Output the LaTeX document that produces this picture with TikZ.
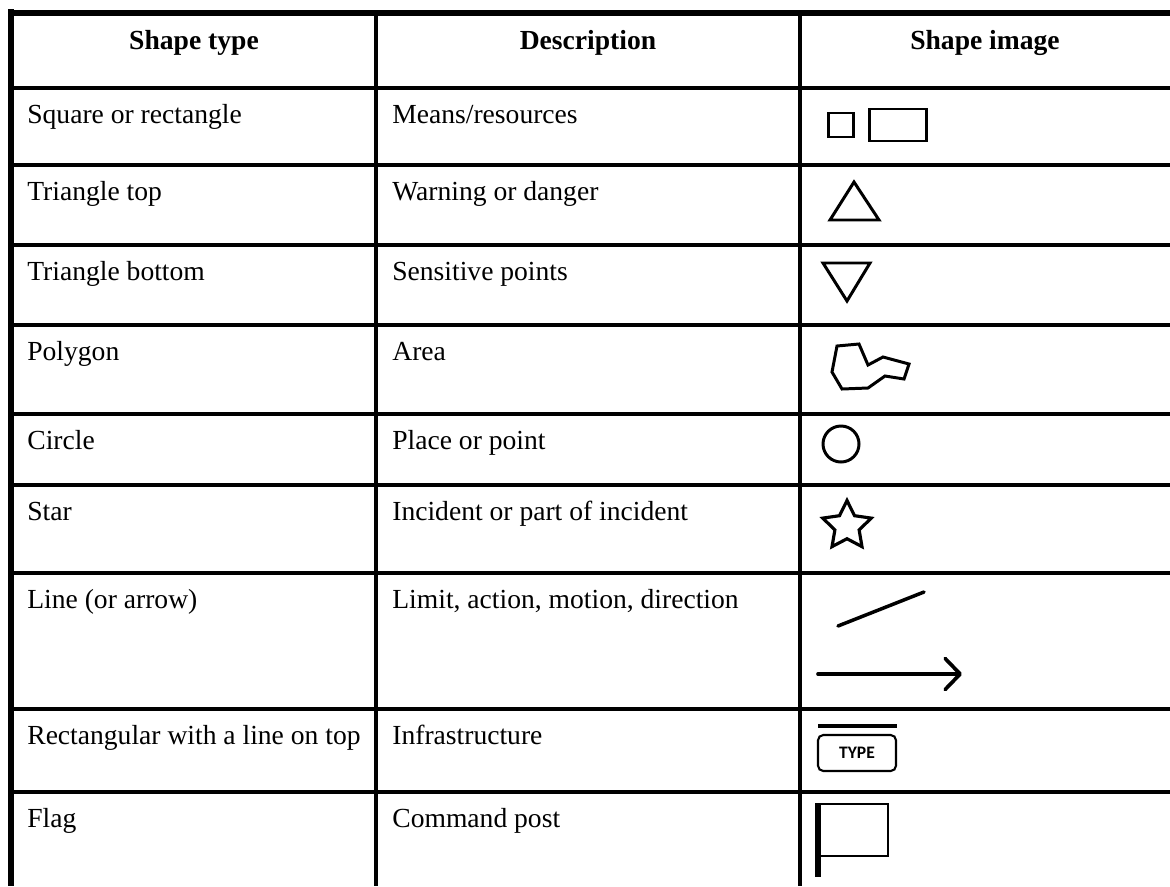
\documentclass[tikz,border=0pt]{standalone}
\usepackage{fontspec}
\setmainfont{Liberation Serif}
\newfontfamily\typefont{Carlito}
\usetikzlibrary{arrows.meta,shapes.geometric}

\begin{document}
\begin{tikzpicture}[x=0.02cm,y=-0.02cm,line join=miter,>={Straight Barb[length=0.3cm,width=0.62cm,round]},
 frame/.style={line width=3.4pt},
 rule/.style={line width=2pt},
 cell/.style={anchor=base west,inner sep=0pt,font=\fontsize{15.7}{19}\selectfont},
 head/.style={anchor=base,inner sep=0pt,font=\fontsize{15.7}{19}\selectfont\bfseries},
 sym/.style={line width=1.7pt}]

\useasboundingbox (0,0) rectangle (1170,886);

% grid
\draw[rule] (14,88)--(1170,88);
\draw[rule] (14,165)--(1170,165);
\draw[rule] (14,245)--(1170,245);
\draw[rule] (14,325)--(1170,325);
\draw[rule] (14,414)--(1170,414);
\draw[rule] (14,485)--(1170,485);
\draw[rule] (14,573)--(1170,573);
\draw[rule] (14,709)--(1170,709);
\draw[rule] (14,792)--(1170,792);
\draw[rule] (376,16)--(376,886);
\draw[rule] (800,16)--(800,886);
\draw[frame] (8,13)--(1170,13);
\draw[frame] (11,9)--(11,886);

% headers
\node[head] (htype) at (194,49) {Shape type};
\node[head] (hdesc) at (588,49) {Description};
\node[head] (himg) at (985,49) {Shape image};

% first column
\node[cell] (square) at (27,123) {Square or rectangle};
\node[cell] (tritop) at (27,200) {Triangle top};
\node[cell] (tribot) at (27,280) {Triangle bottom};
\node[cell] (polygon) at (27,360) {Polygon};
\node[cell] (circle) at (27,449) {Circle};
\node[cell] (star) at (27,520) {Star};
\node[cell] (line) at (27,608) {Line (or arrow)};
\node[cell] (infra) at (27,744) {Rectangular with a line on top};
\node[cell] (flag) at (27,827) {Flag};

% second column
\node[cell] (means) at (392,123) {Means/resources};
\node[cell] (warning) at (392,200) {Warning or danger};
\node[cell] (sensitive) at (392,280) {Sensitive points};
\node[cell] (area) at (392,360) {Area};
\node[cell] (place) at (392,449) {Place or point};
\node[cell] (incident) at (392,520) {Incident or part of incident};
\node[cell] (limit) at (392,608) {Limit, action, motion, direction};
\node[cell] (infrastructure) at (392,744) {Infrastructure};
\node[cell] (command) at (392,827) {Command post};

% shape images
\draw[sym] (828,113) rectangle (853,137);
\draw[sym] (869,109) rectangle (926,141);

\draw[sym] (854,182)--(879,220)--(830,220)--cycle;

\draw[sym] (823,263)--(870,263)--(847,301)--cycle;

\draw[sym] (837,346)--(859,344)--(868,365)--(883,357)--(909,364)--(904,379)--(885,376)--(868,388)--(842,389)--(832,372)--cycle;

\draw[sym] (841,444) circle (18);

\node[star,star points=5,star point ratio=2.0,draw,line width=1.8pt,minimum size=1.02cm,inner sep=0pt] (starimg) at (847,526) {};

\draw[line width=2pt,line cap=round] (838,626)--(924,592);
\draw[line width=2.1pt,line cap=round,->] (818,674)--(962,674);

\draw[line width=2.8pt] (818,726)--(897,726);
\node[draw,line width=1.2pt,rounded corners=3pt,minimum width=1.56cm,minimum height=0.72cm,font=\typefont\bfseries\fontsize{10}{12}\selectfont] (typebox) at (857,753) {TYPE};

\draw[line width=1.2pt] (818,804) rectangle (888,856);
\draw[line width=3.2pt] (818,803)--(818,877);

\end{tikzpicture}
\end{document}
